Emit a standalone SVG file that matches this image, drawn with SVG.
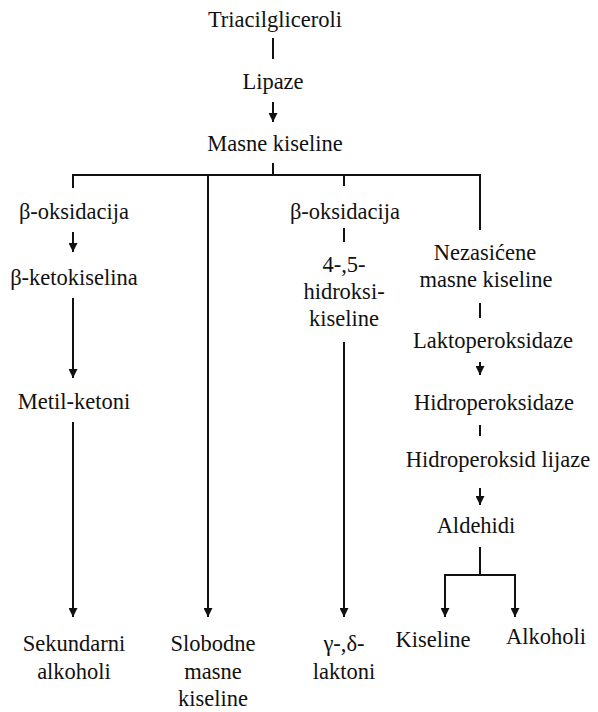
<svg xmlns="http://www.w3.org/2000/svg" width="598" height="712" viewBox="0 0 598 712">
<defs>
<style>
text{font-size:22.5px;fill:#111;text-anchor:middle}
.ln{stroke:#111;stroke-width:2;fill:none}
</style>
<marker id="ah" viewBox="0 0 10 10" refX="10" refY="5" markerWidth="4.5" markerHeight="4.5" markerUnits="strokeWidth" orient="auto">
<path d="M0,0 L10,5 L0,10 z" fill="#111"/>
</marker>
</defs>
<rect width="598" height="712" fill="#fff"/>
<g id="connectors">
<line class="ln" x1="273" y1="38" x2="273" y2="59"/>
<line class="ln" x1="273" y1="102" x2="273" y2="122" marker-end="url(#ah)"/>
<line class="ln" x1="273" y1="163" x2="273" y2="175"/>
<polyline class="ln" points="73,188 73,175 480,175 480,230"/>
<line class="ln" x1="208" y1="175" x2="208" y2="617" marker-end="url(#ah)"/>
<line class="ln" x1="344" y1="175" x2="344" y2="186"/>
<line class="ln" x1="73" y1="232" x2="73" y2="252" marker-end="url(#ah)"/>
<line class="ln" x1="73" y1="298" x2="73" y2="378" marker-end="url(#ah)"/>
<line class="ln" x1="73" y1="422" x2="73" y2="617" marker-end="url(#ah)"/>
<line class="ln" x1="344" y1="228" x2="344" y2="242"/>
<line class="ln" x1="344" y1="342" x2="344" y2="617" marker-end="url(#ah)"/>
<line class="ln" x1="480" y1="303" x2="480" y2="318"/>
<line class="ln" x1="480" y1="362" x2="480" y2="375" marker-end="url(#ah)"/>
<line class="ln" x1="480" y1="425" x2="480" y2="436"/>
<line class="ln" x1="480" y1="488" x2="480" y2="505" marker-end="url(#ah)"/>
<line class="ln" x1="480" y1="547" x2="480" y2="575"/>
<polyline class="ln" points="445,617 445,575 515,575"/>
<line class="ln" x1="445" y1="590" x2="445" y2="617" marker-end="url(#ah)"/>
<line class="ln" x1="515" y1="574" x2="515" y2="617" marker-end="url(#ah)"/>
</g>
<g font-family="Liberation Serif, Times New Roman, serif">
<g id="n-triacil"><text x="275" y="27">Triacilgliceroli</text></g>
<g id="n-lipaze"><text x="273" y="89">Lipaze</text></g>
<g id="n-masne"><text x="275" y="151">Masne kiseline</text></g>
<g id="n-boks1"><text x="74" y="219">β-oksidacija</text></g>
<g id="n-bketo"><text x="74" y="285">β-ketokiselina</text></g>
<g id="n-metil"><text x="74" y="409">Metil-ketoni</text></g>
<g id="n-sek"><text x="74" y="651">Sekundarni</text><text x="74" y="679">alkoholi</text></g>
<g id="n-slob"><text x="213" y="651">Slobodne</text><text x="213" y="679">masne</text><text x="213" y="706">kiseline</text></g>
<g id="n-boks2"><text x="345" y="219">β-oksidacija</text></g>
<g id="n-hidroksi"><text x="344" y="272">4-,5-</text><text x="344" y="299">hidroksi-</text><text x="344" y="326">kiseline</text></g>
<g id="n-lakt"><text x="344" y="651">γ-,δ-</text><text x="344" y="679">laktoni</text></g>
<g id="n-nezas"><text x="485" y="260">Nezasićene</text><text x="486" y="287">masne kiseline</text></g>
<g id="n-laktoper"><text x="493" y="348">Laktoperoksidaze</text></g>
<g id="n-hidroper"><text x="494" y="410">Hidroperoksidaze</text></g>
<g id="n-lijaze"><text x="498" y="467">Hidroperoksid lijaze</text></g>
<g id="n-ald"><text x="476" y="533">Aldehidi</text></g>
<g id="n-kis"><text x="433" y="647">Kiseline</text></g>
<g id="n-alk"><text x="546" y="644">Alkoholi</text></g>
</g>
</svg>
